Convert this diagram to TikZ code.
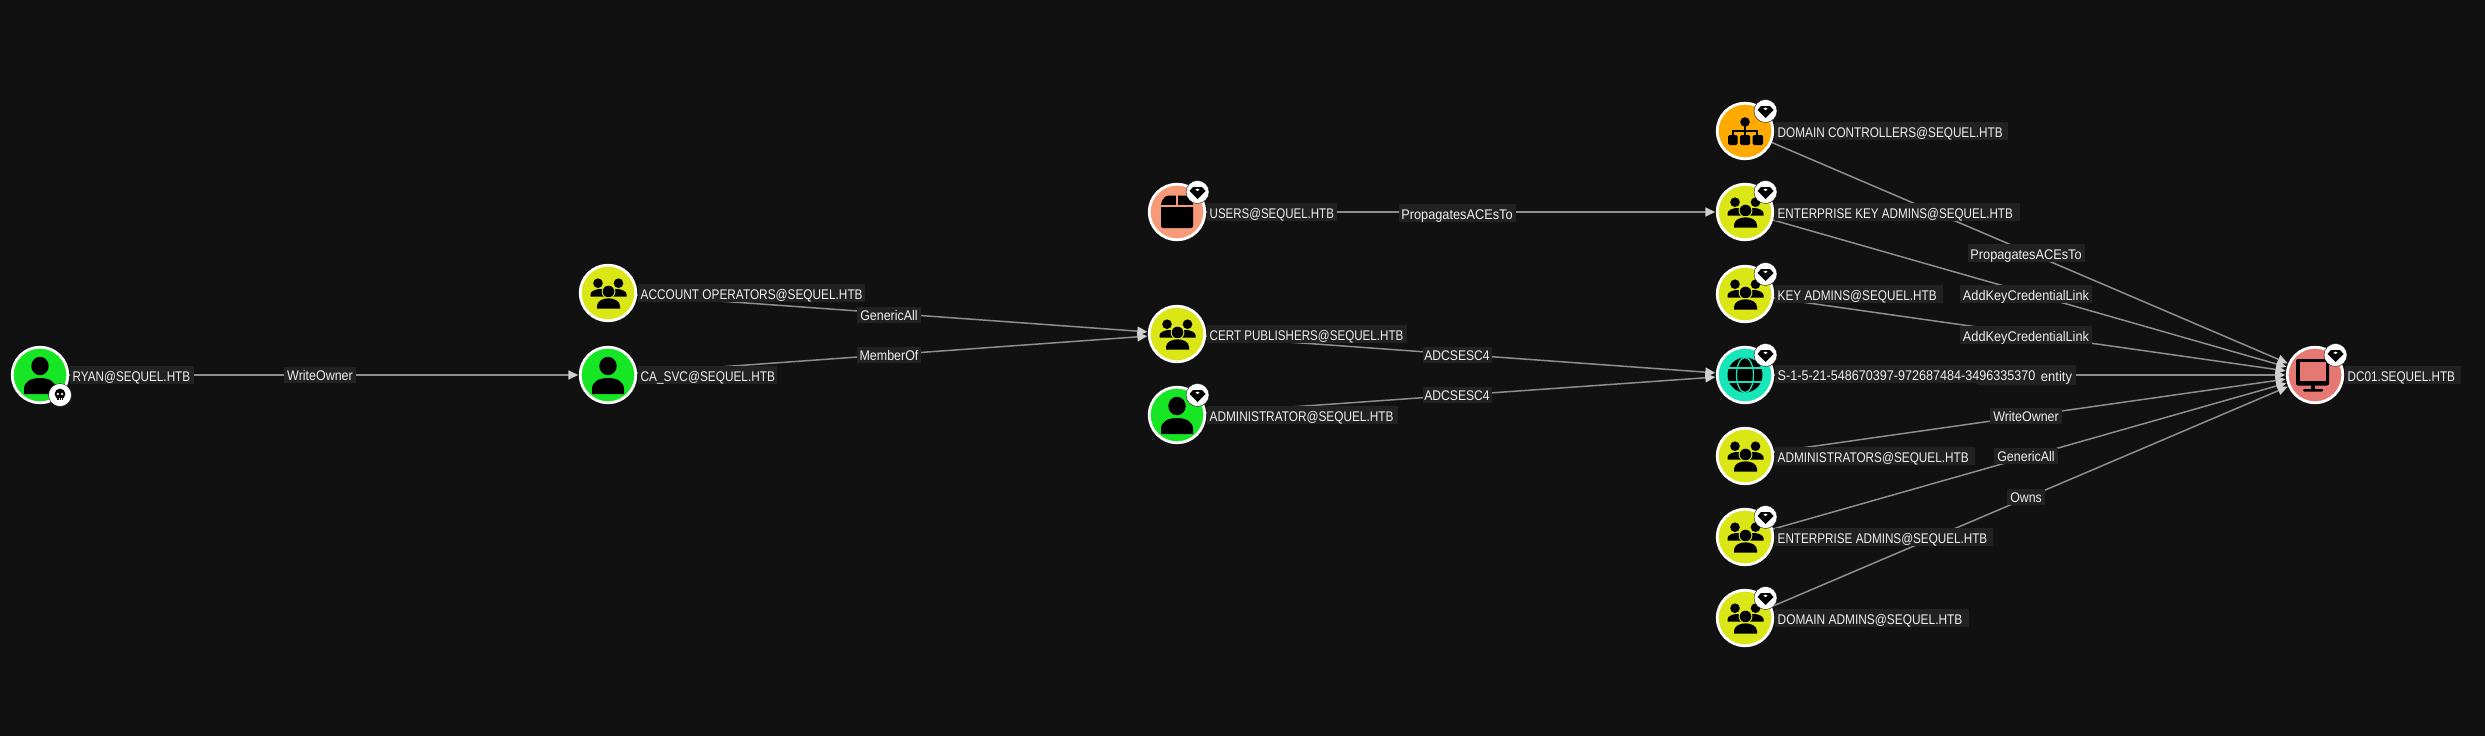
\documentclass[tikz,border=0pt]{standalone}
\usepackage{fontspec}
\usepackage{graphicx}
\setmainfont{Liberation Sans}
\usetikzlibrary{arrows.meta,calc}
\pgfdeclarelayer{canvas}
\pgfdeclarelayer{edges}
\pgfsetlayers{canvas,edges,main}
\definecolor{bgc}{HTML}{111111}
\definecolor{labc}{HTML}{222222}
\definecolor{edgec}{HTML}{8E8E8E}
\definecolor{tipc}{HTML}{D0D0D0}
\definecolor{txtc}{HTML}{F0F0F0}
\definecolor{ucol}{HTML}{17E625}
\definecolor{gcol}{HTML}{DBE617}
\definecolor{ccol}{HTML}{E67873}
\definecolor{dcol}{HTML}{17E6B9}
\definecolor{ocol}{HTML}{FFAA00}
\definecolor{kcol}{HTML}{F79A78}
\tikzset{
  x=1pt,y=-1pt,
  ent/.style={circle,draw=white,line width=2.8pt,minimum size=55.6pt,inner sep=0pt,fill=#1},
  nlab/.style={anchor=west,fill=labc,text=txtc,inner sep=0pt,text height=15.3pt,text depth=2.7pt,font=\fontsize{14}{14}\selectfont},
  elab/.style={fill=labc,text=txtc,inner sep=0pt,text height=12.7pt,text depth=2.7pt,font=\fontsize{14}{14}\selectfont},
  elabtall/.style={elab,text height=15pt,text depth=3pt},
  conn/.style={draw=edgec,line width=1.5pt,-{Triangle[length=10pt,width=9pt,color=tipc]},shorten >=0.5pt},
  badge/.style={circle,fill=white,draw=bgc,line width=0.4pt,minimum size=23pt,inner sep=0pt},
  pics/userico/.style={code={
    \fill[black] (0,-9) ellipse [x radius=8.7,y radius=9.2];
    \fill[black] (-16,19) -- (-16,14) .. controls (-16,6) and (-8,3) .. (0,3) .. controls (8,3) and (16,6) .. (16,14) -- (16,19) -- cycle;
  }},
  pics/groupico/.style={code={
    \fill[black] (-10,-9.8) circle (4.8);
    \fill[black] (10.5,-9.8) circle (4.8);
    \fill[black] (-17.5,3.7) -- (-17.5,1) .. controls (-17,-2) and (-12,-4) .. (-8,-4) .. controls (-6,-4) and (-5,-3.5) .. (-4,-3) -- (-4,3.7) -- cycle;
    \fill[black] (18.5,3.7) -- (18.5,1) .. controls (18,-2) and (13,-4) .. (9,-4) .. controls (7,-4) and (6,-3.5) .. (5,-3) -- (5,3.7) -- cycle;
    \fill[gcol] (0.5,-1.5) circle (6.9);
    \fill[black] (0.5,-1.5) circle (5.8);
    \fill[gcol] (-12,15.5) rectangle (13,4.2);
    \fill[black] (-11,15.5) -- (-11,13) .. controls (-11,8) and (-5,5.3) .. (0.5,5.3) .. controls (6,5.3) and (12,8) .. (12,13) -- (12,15.5) -- cycle;
  }},
  pics/ouico/.style={code={
    \fill[black,rounded corners=2pt] (-16,-10) -- (-11,-16.5) -- (11,-16.5) -- (16,-10) -- (16,16) -- (-16,16) -- cycle;
    \draw[kcol,line width=1.7pt] (-16.5,-6) -- (16.5,-6);
    \draw[kcol,line width=1.7pt] (0,-17) -- (0,-6);
  }},
  pics/dcico/.style={code={
    \fill[black] (0,-9) circle (4.8);
    \draw[black,line width=1.8pt] (0,-9) -- (0,7);
    \draw[black,line width=1.8pt] (-12,7) -- (-12,0) -- (12,0) -- (12,7);
    \fill[black,rounded corners=1.5pt] (-17,4) rectangle (-7.5,14);
    \fill[black,rounded corners=1.5pt] (-5,4) rectangle (5,14);
    \fill[black,rounded corners=1.5pt] (7.5,4) rectangle (18,14);
  }},
  pics/globeico/.style={code={
    \fill[black] (0,0) circle (17.5);
    \draw[dcol,line width=1.3pt] (0,0) ellipse [x radius=8.5,y radius=17.5];
    \draw[dcol,line width=1.3pt] (-17,-7) -- (17,-7);
    \draw[dcol,line width=1.3pt] (-17,7) -- (17,7);
  }},
  pics/monico/.style={code={
    \fill[black,rounded corners=2pt] (-19,-16) rectangle (14,10.5);
    \fill[ccol] (-15.5,-13) rectangle (10.5,5.5);
    \fill[black] (-4,10) rectangle (0,15);
    \fill[black,rounded corners=1pt] (-12,14) rectangle (8,16.5);
  }},
  pics/gemico/.style={code={
    \fill[black] (-4.5,-5) -- (4.5,-5) -- (8,-1) -- (0,7) -- (-8,-1) -- cycle;
    \fill[white] (-2.2,-2.2) -- (0,-3.5) -- (2.2,-2.2) -- (0,-1) -- cycle;
  }},
  pics/skullico/.style={code={
    \fill[black] (0,-1) circle (5.4);
    \fill[black] (-3.2,0) rectangle (3.2,5.2);
    \fill[white] (-2.1,-1) circle (1.3);
    \fill[white] (2.1,-1) circle (1.3);
    \draw[white,line width=0.5pt] (-1.1,3.2) -- (-1.1,5.4) (1.1,3.2) -- (1.1,5.4);
  }},
}
\newcommand{\gemat}[1]{\node[badge] at ($(#1)+(20.5,-20)$) {}; \pic at ($(#1)+(20.5,-20)$) {gemico};}
\newcommand{\nl}[5][0]{\node[nlab] (#2lab) at ($(#2)+(29.5,#1)$) {\makebox[#4pt][l]{\hspace{3pt}\scalebox{#3}[1]{#5}}};}
\newcommand{\el}[6][elab]{\node[#1,minimum width=#4pt] (#2) at #3 {\scalebox{#5}[1]{#6}};}
\begin{document}
\begin{tikzpicture}
\begin{pgfonlayer}{canvas}
\fill[bgc] (0,0) rectangle (2485,736);
\end{pgfonlayer}
\useasboundingbox (0,0) rectangle (2485,736);
% entities
\node[ent=ucol] (ryan) at (40,375) {};
\node[ent=ucol] (casvc) at (608,375) {};
\node[ent=gcol] (acct) at (608,293) {};
\node[ent=kcol] (users) at (1177,212) {};
\node[ent=gcol] (cert) at (1177,334) {};
\node[ent=ucol] (admin) at (1177,415) {};
\node[ent=ocol] (dcs) at (1745,131) {};
\node[ent=gcol] (eka) at (1745,212) {};
\node[ent=gcol] (ka) at (1745,294) {};
\node[ent=dcol] (sid) at (1745,375) {};
\node[ent=gcol] (admins) at (1745,456) {};
\node[ent=gcol] (ea) at (1745,537) {};
\node[ent=gcol] (da) at (1745,618) {};
\node[ent=ccol] (dc) at (2315,375) {};
% icons
\pic at (ryan) {userico};
\pic at (casvc) {userico};
\pic at (admin) {userico};
\pic at (acct) {groupico};
\pic at (cert) {groupico};
\pic at (eka) {groupico};
\pic at (ka) {groupico};
\pic at (admins) {groupico};
\pic at (ea) {groupico};
\pic at (da) {groupico};
\pic at (users) {ouico};
\pic at (dcs) {dcico};
\pic at (sid) {globeico};
\pic at (dc) {monico};
% badges
\gemat{users}\gemat{admin}\gemat{dcs}\gemat{eka}\gemat{ka}\gemat{sid}\gemat{ea}\gemat{da}\gemat{dc}
\node[badge] at ($(ryan)+(20,20)$) {};
\pic at ($(ryan)+(20,20)$) {skullico};
% connectors
\begin{pgfonlayer}{edges}
\draw[conn] (ryan) -- (casvc);
\draw[conn] (acct) -- (cert);
\draw[conn] (casvc) -- (cert);
\draw[conn] (users) -- (eka);
\draw[conn] (cert) -- (sid);
\draw[conn] (admin) -- (sid);
\draw[conn] (dcs) -- (dc);
\draw[conn] (eka) -- (dc);
\draw[conn] (ka) -- (dc);
\draw[conn] (sid) -- (dc);
\draw[conn] (admins) -- (dc);
\draw[conn] (ea) -- (dc);
\draw[conn] (da) -- (dc);
\end{pgfonlayer}
% edge labels
\el{l1}{(320,375)}{72}{.89}{WriteOwner}
\el{l2}{(889,315)}{64}{.89}{GenericAll}
\el{l3}{(889,355)}{64}{.89}{MemberOf}
\el[elabtall]{l4}{(1457,213)}{117}{.91}{PropagatesACEsTo}
\el{l5}{(1457,355)}{69}{.865}{ADCSESC4}
\el{l6}{(1457,395)}{69}{.865}{ADCSESC4}
\el[elabtall]{l7}{(2026,253)}{117}{.91}{PropagatesACEsTo}
\el[elabtall]{l8}{(2026,294)}{132}{.91}{AddKeyCredentialLink}
\el[elabtall]{l9}{(2026,335)}{132}{.91}{AddKeyCredentialLink}
\node[elabtall,text height=16.4pt,text depth=3.3pt] (l10) at (2026.5,375) {\makebox[99pt][r]{\scalebox{.93}[1]{entity}\hspace{4pt}}};
\el{l11}{(2026,416)}{72}{.89}{WriteOwner}
\el{l12}{(2026,456)}{64}{.89}{GenericAll}
\el{l13}{(2026,497)}{38}{.88}{Owns}
% entity labels
\nl{ryan}{.836}{124}{RYAN@SEQUEL.HTB}
\nl{casvc}{.845}{139}{CA\_SVC@SEQUEL.HTB}
\nl{acct}{.845}{227}{ACCOUNT OPERATORS@SEQUEL.HTB}
\nl{users}{.822}{130}{USERS@SEQUEL.HTB}
\nl{cert}{.83}{200}{CERT PUBLISHERS@SEQUEL.HTB}
\nl{admin}{.845}{191}{ADMINISTRATOR@SEQUEL.HTB}
\nl{dcs}{.84}{233}{DOMAIN CONTROLLERS@SEQUEL.HTB}
\nl{eka}{.832}{245}{ENTERPRISE KEY ADMINS@SEQUEL.HTB}
\nl{ka}{.84}{168}{KEY ADMINS@SEQUEL.HTB}
\nl[-1]{sid}{.90}{266}{S-1-5-21-548670397-972687484-3496335370}
\nl{admins}{.842}{200}{ADMINISTRATORS@SEQUEL.HTB}
\nl{ea}{.836}{218}{ENTERPRISE ADMINS@SEQUEL.HTB}
\nl{da}{.85}{194}{DOMAIN ADMINS@SEQUEL.HTB}
\nl{dc}{.836}{116}{DC01.SEQUEL.HTB}
\end{tikzpicture}
\end{document}
